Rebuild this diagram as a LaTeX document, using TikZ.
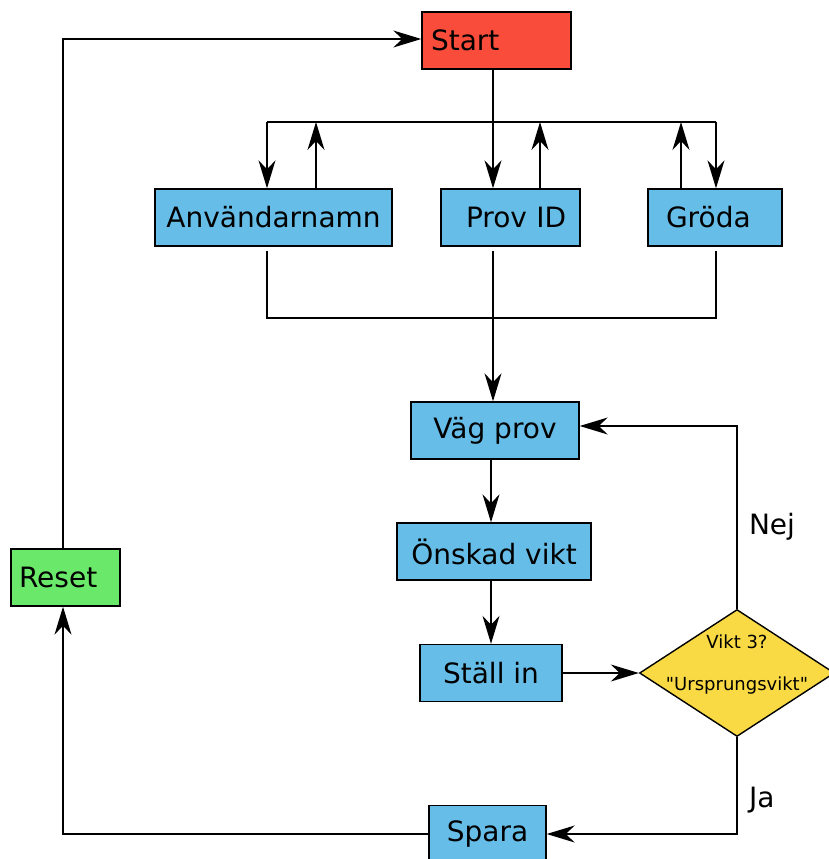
\documentclass[tikz,border=0pt]{standalone}
\usepackage{fontspec}
\setmainfont{DejaVu Sans}[Ligatures=TeXOff]
\usetikzlibrary{shapes.geometric,arrows.meta}
\definecolor{startred}{HTML}{F94C3A}
\definecolor{stepblue}{HTML}{66BEE8}
\definecolor{resetgreen}{HTML}{6AE86A}
\definecolor{askyellow}{HTML}{F9DA44}

\begin{document}
\begin{tikzpicture}[x=1pt,y=-1pt,->,>={Stealth[length=28pt,width=17pt,inset=9pt]},
    line width=1.4pt,
    box/.style={draw=black,rectangle,minimum height=57pt,inner sep=0pt,
      font=\fontsize{28}{33}\selectfont},
    lbl/.style={font=\fontsize{28}{33}\selectfont}]
  \useasboundingbox (0,0) rectangle (829,859);

  \node[box,fill=startred,text width=149pt,align=left] (start) at (496.5,40.5) {\hspace*{9pt}Start};
  \node[box,fill=stepblue,minimum width=237pt] (anv) at (273.5,217.5) {Användarnamn};
  \node[box,fill=stepblue,text width=139pt,align=left] (prov) at (510.5,217.5) {\hspace*{25pt}Prov ID};
  \node[box,fill=stepblue,text width=134pt,align=left] (groda) at (715,217.5) {\hspace*{18pt}Gröda};
  \node[box,fill=stepblue,minimum width=168pt] (vag) at (495,430.5) {Väg prov};
  \node[box,fill=stepblue,minimum width=194pt] (onskad) at (494,551.5) {Önskad vikt};
  \node[box,fill=stepblue,minimum width=142pt] (stall) at (491,673) {Ställ in};
  \node[draw=black,diamond,fill=askyellow,minimum width=195pt,minimum height=127pt,inner sep=0pt,
    label={[font=\fontsize{18}{21}\selectfont,align=center,yshift=8pt]center:Vikt 3?\\[21pt]"Ursprungsvikt"}]
    (vikt) at (737,673) {};
  \node[box,fill=stepblue,minimum width=117pt] (spara) at (487.5,834) {Spara};
  \node[box,fill=resetgreen,text width=109pt,align=left] (reset) at (65.5,577.5) {\hspace*{8pt}Reset};

  % bus under Start
  \coordinate (trunk) at (493,122);
  \coordinate (busL) at (267,122);
  \coordinate (busR) at (716,122);
  \coordinate (upA) at (316,122);
  \coordinate (upP) at (540,122);
  \coordinate (upG) at (681,122);
  \coordinate (joinL) at (267,318);
  \coordinate (joinR) at (716,318);
  \coordinate (col) at (491,0);
  \coordinate (loopN) at (737,426);
  \coordinate (loopJ) at (737,834);
  \coordinate (loopS) at (63,834);
  \coordinate (loopR) at (63,39);

  \draw (start.south -| trunk) -- (prov.north -| trunk);
  \draw[-] (busL) -- (busR);
  \draw (busL) -- (anv.north -| busL);
  \draw (busR) -- (groda.north -| busR);
  \draw (anv.north -| upA) -- (upA);
  \draw (prov.north -| upP) -- (upP);
  \draw (groda.north -| upG) -- (upG);

  % collect
  \draw[-,shorten <=4pt,shorten >=4pt] (anv.south -| joinL) -- (joinL) -- (joinR) -- (groda.south -| joinR);
  \draw[shorten <=4pt] (prov.south -| trunk) -- (vag.north -| trunk);
  \draw (vag.south -| col) -- (onskad.north -| col);
  \draw (onskad.south -| col) -- (stall.north -| col);
  \draw (stall.east) -- (vikt.west);
  \draw (vikt.north) -- node[lbl,right=8pt,pos=0.45] {Nej} (loopN) -- (vag.east |- loopN);
  \draw (vikt.south) -- node[lbl,right=8pt,pos=0.65] {Ja} (loopJ) -- (spara.east |- loopJ);
  \draw (spara.west) -- (loopS) -- (reset.south -| loopS);
  \draw (reset.north -| loopS) -- (loopR) -- (start.west |- loopR);
\end{tikzpicture}
\end{document}
